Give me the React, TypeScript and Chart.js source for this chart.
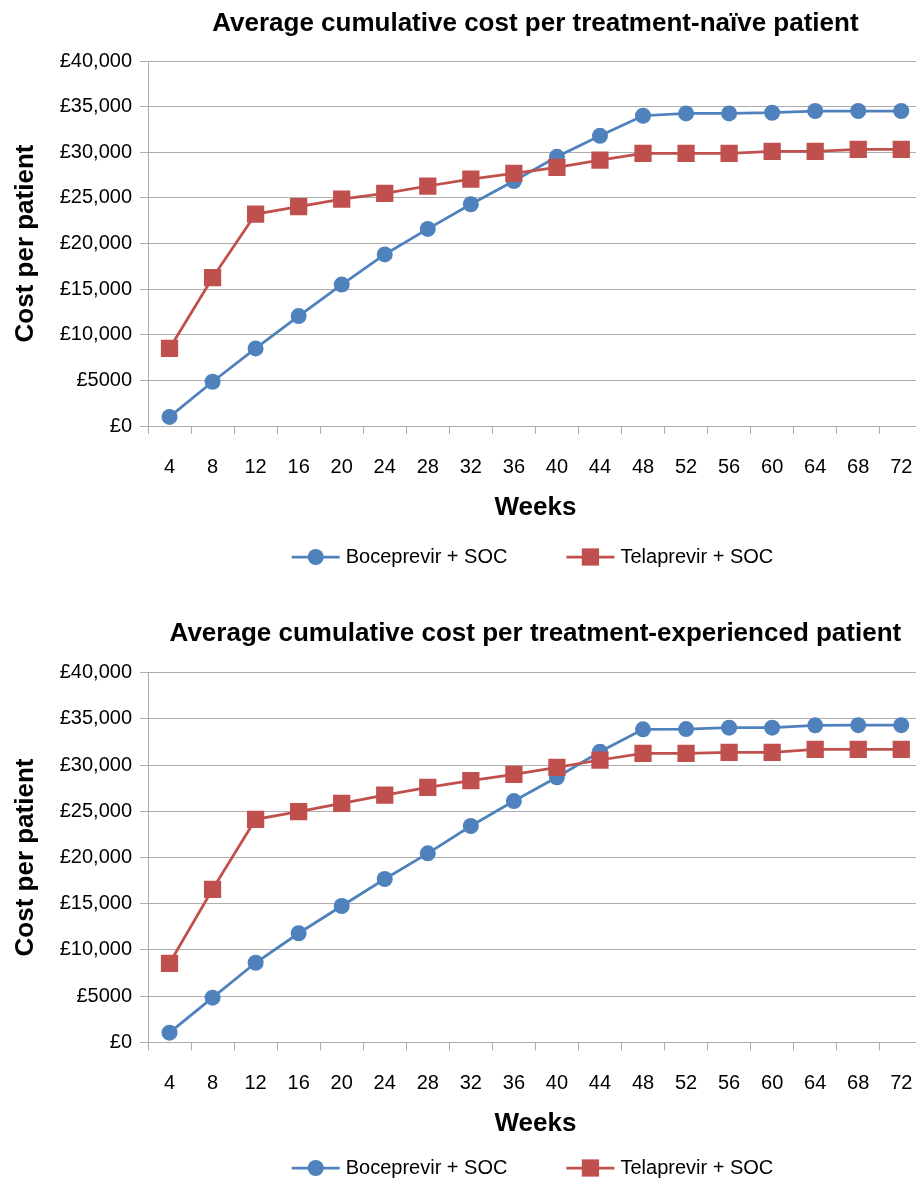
import React, { useEffect, useRef } from 'react';
import { Chart, registerables } from 'chart.js';

Chart.register(...registerables);

// ---------- data ----------
const weeks = ['4', '8', '12', '16', '20', '24', '28', '32', '36', '40', '44', '48', '52', '56', '60', '64', '68', '72'];
const yTickLabels = ['£0', '£5000', '£10,000', '£15,000', '£20,000', '£25,000', '£30,000', '£35,000', '£40,000'];
const seriesNames = ['Boceprevir + SOC', 'Telaprevir + SOC'];
const chartTitles = [
  'Average cumulative cost per treatment-naïve patient',
  'Average cumulative cost per treatment-experienced patient',
];
const xAxisTitle = 'Weeks';
const yAxisTitle = 'Cost per patient';

const naiveBoceprevir = [1000, 4850, 8500, 12050, 15500, 18800, 21600, 24300, 26850, 29500, 31800, 34000, 34260, 34260, 34330, 34520, 34520, 34520];
const naiveTelaprevir = [8500, 16250, 23230, 24030, 24870, 25500, 26300, 27060, 27690, 28340, 29140, 29870, 29870, 29870, 30090, 30090, 30310, 30310];
const expBoceprevir = [1040, 4830, 8610, 11800, 14750, 17670, 20450, 23410, 26110, 28680, 31450, 33870, 33900, 34050, 34050, 34300, 34320, 34320];
const expTelaprevir = [8550, 16560, 24130, 24960, 25860, 26760, 27600, 28310, 29000, 29760, 30550, 31270, 31270, 31380, 31380, 31710, 31710, 31710];

// ---------- style ----------
const FONT = '"Liberation Sans", Arial, Helvetica, sans-serif';
const BLUE = '#4f81bd';
const RED = '#c0504d';
const GRID = '#adadad';
const CANVAS_W = 935;

const lineLegendPlugin = {
  id: 'lineLegend',
  afterDraw(chart: any, _args: any, opts: any) {
    const ctx = chart.ctx as CanvasRenderingContext2D;
    const ds = chart.data.datasets;
    const lineLen = 48;
    const gapText = 6;
    const gapItem = 59;
    ctx.save();
    ctx.font = `${opts.size}px ${FONT}`;
    const widths = ds.map((d: any) => ctx.measureText(d.label).width);
    let total = 0;
    widths.forEach((w: number, i: number) => {
      total += lineLen + gapText + w + (i > 0 ? gapItem : 0);
    });
    let x = opts.centerX - total / 2;
    const y = opts.y;
    ds.forEach((d: any, i: number) => {
      const c = d.borderColor;
      ctx.strokeStyle = c;
      ctx.fillStyle = c;
      ctx.lineWidth = d.borderWidth;
      ctx.beginPath();
      ctx.moveTo(x, y);
      ctx.lineTo(x + lineLen, y);
      ctx.stroke();
      const mx = x + lineLen / 2;
      if (d.pointStyle === 'rect') {
        const s = d.pointRadius * Math.SQRT1_2;
        ctx.fillRect(mx - s, y - s, 2 * s, 2 * s);
      } else {
        ctx.beginPath();
        ctx.arc(mx, y, d.pointRadius, 0, Math.PI * 2);
        ctx.fill();
      }
      ctx.fillStyle = '#000';
      ctx.textAlign = 'left';
      ctx.textBaseline = 'middle';
      ctx.fillText(d.label, x + lineLen + gapText, y);
      x += lineLen + gapText + widths[i] + gapItem;
    });
    ctx.restore();
  },
};

type Layout = {
  height: number;
  titlePadTop: number;
  titlePadBottom: number;
  xTitlePadBottom: number;
  padBottom: number;
  legendY: number;
  legendSize: number;
};

function CostChart({ title, boce, tela, layout }: { title: string; boce: number[]; tela: number[]; layout: Layout }) {
  const ref = useRef<HTMLCanvasElement | null>(null);
  useEffect(() => {
    if (!ref.current) return;
    const chart = new Chart(ref.current, {
      type: 'line',
      data: {
        labels: weeks,
        datasets: [
          {
            label: seriesNames[0],
            data: boce,
            borderColor: BLUE,
            backgroundColor: BLUE,
            borderWidth: 2.75,
            pointStyle: 'circle',
            pointRadius: 8,
            pointBorderWidth: 0,
            pointBackgroundColor: BLUE,
            tension: 0,
            order: 1,
          },
          {
            label: seriesNames[1],
            data: tela,
            borderColor: RED,
            backgroundColor: RED,
            borderWidth: 2.75,
            pointStyle: 'rect',
            pointRadius: 12.2,
            pointBorderWidth: 0,
            pointBackgroundColor: RED,
            tension: 0,
            order: 0,
          },
        ],
      },
      options: {
        animation: false,
        responsive: false,
        devicePixelRatio: 1,
        layout: { padding: { left: 0, right: 10, top: 0, bottom: layout.padBottom } },
        plugins: {
          legend: { display: false },
          tooltip: { enabled: false },
          title: {
            display: true,
            text: title,
            fullSize: false,
            color: '#000',
            font: { family: FONT, size: 26, weight: 'bold' },
            padding: { top: layout.titlePadTop, bottom: layout.titlePadBottom },
          },
          lineLegend: { centerX: 532.5, y: layout.legendY, size: layout.legendSize },
        } as any,
        scales: {
          x: {
            type: 'category',
            offset: true,
            grid: { offset: true, drawOnChartArea: false, tickLength: 8, color: GRID, lineWidth: 1 },
            border: { color: GRID, width: 1 },
            ticks: { color: '#000', font: { family: FONT, size: 20 }, padding: 21.5, maxRotation: 0, autoSkip: false },
            title: {
              display: true,
              text: xAxisTitle,
              color: '#000',
              font: { family: FONT, size: 26, weight: 'bold' },
              padding: { top: 0, bottom: layout.xTitlePadBottom },
            },
            afterFit: (s: any) => {
              s.height = 100;
            },
          },
          y: {
            min: 0,
            max: 40000,
            grid: { color: GRID, lineWidth: 1, tickLength: 8 },
            border: { color: GRID, width: 1 },
            ticks: {
              stepSize: 5000,
              padding: 8,
              color: '#000',
              font: { family: FONT, size: 20 },
              callback: (v: any) => yTickLabels[Math.round(Number(v) / 5000)],
            },
            title: {
              display: true,
              text: yAxisTitle,
              color: '#000',
              font: { family: FONT, size: 26, weight: 'bold' },
              padding: { top: 10, bottom: 0 },
            },
            afterFit: (s: any) => {
              s.width = 148;
            },
          },
        },
      } as any,
      plugins: [lineLegendPlugin],
    });
    return () => chart.destroy();
  }, [title, boce, tela, layout]);
  return <canvas ref={ref} width={CANVAS_W} height={layout.height} style={{ display: 'block', width: CANVAS_W, height: layout.height }} />;
}

const topLayout: Layout = {
  height: 590,
  titlePadTop: 8,
  titlePadBottom: 21.8,
  xTitlePadBottom: 3,
  padBottom: 64,
  legendY: 557,
  legendSize: 20,
};

const bottomLayout: Layout = {
  height: 580,
  titlePadTop: 18.4,
  titlePadBottom: 23.1,
  xTitlePadBottom: 2.5,
  padBottom: 37.7,
  legendY: 568,
  legendSize: 20,
};

export default function App() {
  return (
    <div style={{ position: 'fixed', left: 0, top: 0, width: 916, height: 1180, overflow: 'hidden', background: '#fff' }}>
      <div style={{ position: 'absolute', left: 0, top: 0 }}>
        <CostChart title={chartTitles[0]} boce={naiveBoceprevir} tela={naiveTelaprevir} layout={topLayout} />
      </div>
      <div style={{ position: 'absolute', left: 0, top: 600 }}>
        <CostChart title={chartTitles[1]} boce={expBoceprevir} tela={expTelaprevir} layout={bottomLayout} />
      </div>
    </div>
  );
}
